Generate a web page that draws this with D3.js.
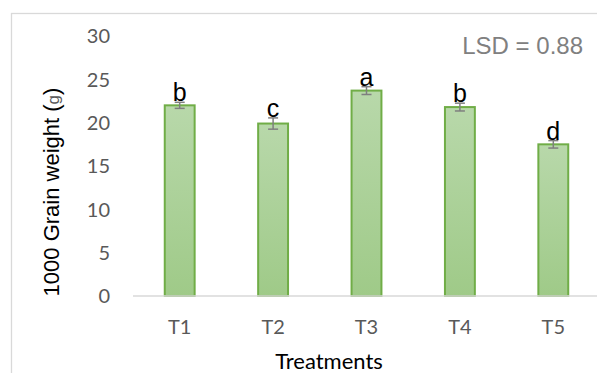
<!DOCTYPE html>
<html>
<head>
<meta charset="utf-8">
<script src="https://cdn.jsdelivr.net/npm/d3@7"></script>
<style>
  body { margin: 0; background: #fff; }
</style>
</head>
<body>
<script>
// data
const treatments = ["T1", "T2", "T3", "T4", "T5"];
const grainWeight = [22.0, 19.9, 23.7, 21.8, 17.5];
const errors = [0.35, 0.65, 0.45, 0.45, 0.43];
const groupLetters = ["b", "c", "a", "b", "d"];
const yTicks = [0, 5, 10, 15, 20, 25, 30];

const W = 597, H = 373;

const svg = d3.select("body").append("svg")
  .attr("width", W)
  .attr("height", H);

// chart border (only top + left show inside the window)
svg.append("rect")
  .attr("x", 11.5).attr("y", 13.5)
  .attr("width", 620).attr("height", 400)
  .attr("fill", "none")
  .attr("stroke", "#d9d9d9")
  .attr("stroke-width", 1.3);

const defs = svg.append("defs");
const grad = defs.append("linearGradient")
  .attr("id", "barGrad")
  .attr("x1", 0).attr("y1", 0).attr("x2", 0).attr("y2", 1);
grad.append("stop").attr("offset", "0%").attr("stop-color", "#b8d8aa");
grad.append("stop").attr("offset", "100%").attr("stop-color", "#9fca88");

const x = d3.scaleBand()
  .domain(treatments)
  .range([133, 600])
  .paddingInner(0.68)
  .paddingOuter(0.34);

const y = d3.scaleLinear()
  .domain([0, 30])
  .range([296, 36]);

// y tick labels
svg.append("g")
  .selectAll("text")
  .data(yTicks)
  .join("text")
  .attr("x", 110)
  .attr("y", d => y(d))
  .attr("dy", "0.36em")
  .attr("text-anchor", "end")
  .attr("font-family", "Lato, 'Open Sans', sans-serif")
  .attr("font-size", 20)
  .attr("fill", "#595959")
  .text(d => d);

// bars
svg.append("g")
  .selectAll("rect")
  .data(grainWeight)
  .join("rect")
  .attr("x", (d, i) => x(treatments[i]))
  .attr("y", d => y(d))
  .attr("width", x.bandwidth())
  .attr("height", d => y(0) - y(d))
  .attr("fill", "url(#barGrad)")
  .attr("stroke", "#70ad47")
  .attr("stroke-width", 2);

// baseline
svg.append("line")
  .attr("x1", 133).attr("x2", 600)
  .attr("y1", y(0)).attr("y2", y(0))
  .attr("stroke", "#d9d9d9")
  .attr("stroke-width", 1.5);

// error bars
const eb = svg.append("g")
  .attr("stroke", "#7f7f7f")
  .attr("stroke-width", 1.5);
grainWeight.forEach((v, i) => {
  const cx = x(treatments[i]) + x.bandwidth() / 2;
  const top = y(v + errors[i]), bot = y(v - errors[i]);
  eb.append("line").attr("x1", cx).attr("x2", cx).attr("y1", top).attr("y2", bot);
  eb.append("line").attr("x1", cx - 5).attr("x2", cx + 5).attr("y1", top).attr("y2", top);
  eb.append("line").attr("x1", cx - 5).attr("x2", cx + 5).attr("y1", bot).attr("y2", bot);
});

// significance letters
svg.append("g")
  .selectAll("text")
  .data(groupLetters)
  .join("text")
  .attr("x", (d, i) => x(treatments[i]) + x.bandwidth() / 2)
  .attr("y", (d, i) => y(grainWeight[i] + errors[i]) - 1)
  .attr("text-anchor", "middle")
  .attr("font-family", "'Liberation Sans', Arial, sans-serif")
  .attr("font-size", 25)
  .attr("fill", "#000")
  .text(d => d);

// x tick labels
svg.append("g")
  .selectAll("text")
  .data(treatments)
  .join("text")
  .attr("x", d => x(d) + x.bandwidth() / 2)
  .attr("y", 334)
  .attr("text-anchor", "middle")
  .attr("font-family", "Lato, 'Open Sans', sans-serif")
  .attr("font-size", 20)
  .attr("fill", "#595959")
  .text(d => d);

// axis titles
svg.append("text")
  .attr("x", 329).attr("y", 369)
  .attr("text-anchor", "middle")
  .attr("font-family", "Lato, 'Open Sans', sans-serif")
  .attr("font-size", 22)
  .attr("fill", "#000")
  .text("Treatments");

const yTitle = svg.append("text")
  .attr("transform", "translate(59,192) rotate(-90)")
  .attr("text-anchor", "middle")
  .attr("font-family", "'Liberation Sans', Arial, sans-serif")
  .attr("font-size", 22)
  .attr("fill", "#000");
yTitle.append("tspan").text("1000 Grain weight (");
yTitle.append("tspan").attr("font-size", 17).attr("fill", "#595959").text("g");
yTitle.append("tspan").text(")");

// LSD note
svg.append("text")
  .attr("x", 583).attr("y", 54)
  .attr("text-anchor", "end")
  .attr("font-family", "'Liberation Sans', Arial, sans-serif")
  .attr("font-size", 24)
  .attr("fill", "#808080")
  .text("LSD = 0.88");
</script>
</body>
</html>
